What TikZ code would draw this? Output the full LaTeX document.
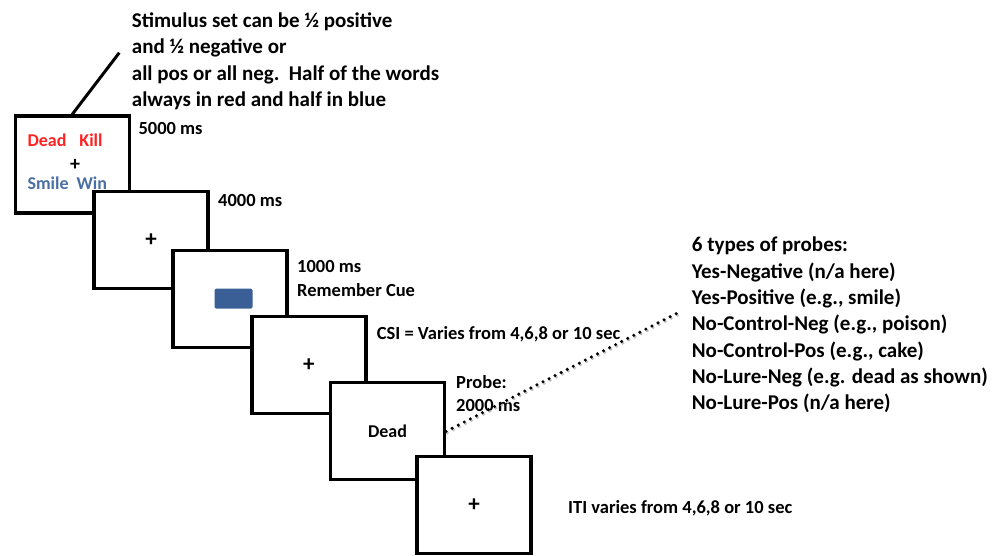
\documentclass[tikz,border=0pt]{standalone}
\usepackage{fontspec}
\setmainfont{Carlito}
\definecolor{wred}{HTML}{FF2222}
\definecolor{wblue}{HTML}{4A6FA5}
\definecolor{cueblue}{HTML}{3A5F96}
\begin{document}
\begin{tikzpicture}[x=1pt,y=-1pt,
  frame/.style={draw,line width=3.2pt,fill=white,minimum width=114pt,minimum height=97pt,inner sep=0pt,font=\fontsize{18}{20}\selectfont\bfseries},
  plus/.style={font=\fontsize{23}{24}\selectfont\bfseries},
  lbl/.style={anchor=base west,inner sep=0pt,font=\fontsize{18.5}{22}\selectfont\bfseries},
  big/.style={anchor=north west,inner sep=0pt,align=left,font=\fontsize{21}{26.4}\selectfont\bfseries},
  word/.style={anchor=base west,inner sep=0pt,font=\fontsize{18}{20}\selectfont\bfseries},
  lead/.style={line width=3pt},
  dotline/.style={line width=3.4pt,line cap=round,dash pattern=on 0pt off 6.8pt,black,
    preaction={draw=black!25,line width=3.4pt,line cap=round,dash pattern=on 0pt off 6.8pt,transform canvas={shift={(1.2,1.6)}}}},
]
\useasboundingbox (0,0) rectangle (1006,555);

% top note
\node[big] (note) at (131.7,12.6) {Stimulus set can be ½ positive\\and ½ negative or\\all pos or all neg.\ \ Half of the words\\always in red and half in blue};

% frame 1
\node[frame] (b1) at (72.2,164.5) {};
\node[word,text=wred] (w1) at (27.3,146.7) {Dead\hspace{13pt}Kill};
\node[inner sep=0pt,font=\fontsize{20}{21}\selectfont\bfseries] (p1) at (75,165) {+};
\node[word,text=wblue] (w2) at (27.3,189) {Smile\hspace{8pt}Win};
\coordinate (leadend) at (119.3,52.7);
\draw[lead] (b1.north) -- (leadend);
\node[lbl] (t1) at (138.3,134) {5000 ms};

% frame 2
\node[frame,plus] (b2) at (151,239.7) {+};
\node[lbl] (t2) at (218,206) {4000 ms};

% frame 3
\node[frame] (b3) at (230,298.8) {};
\node[fill=cueblue,rounded corners=1.5pt,minimum width=38pt,minimum height=20pt,inner sep=0pt] (cue) at (233.5,298.5) {};
\node[lbl] (t3a) at (297,272.7) {1000 ms};
\node[lbl] (t3b) at (297,296) {Remember Cue};

% frame 4
\node[frame,plus] (b4) at (308.9,365) {+};
\node[lbl] (t4) at (376.7,339.3) {CSI = Varies from 4,6,8 or 10 sec};

% frame 5
\node[frame] (b5) at (387.5,431.3) {Dead};
\node[lbl] (t5a) at (456,388.3) {Probe:};
\node[lbl] (t5b) at (456,411.7) {2000 ms};

% frame 6
\node[frame,plus] (b6) at (474,504.7) {+};
\node[lbl] (t6) at (568,513.3) {ITI varies from 4,6,8 or 10 sec};

% probe list
\node[big,font=\fontsize{21}{26.3}\selectfont\bfseries] (probes) at (691.7,237) {6 types of probes:\\Yes-Negative (n/a here)\\Yes-Positive (e.g., smile)\\No-Control-Neg (e.g., poison)\\No-Control-Pos (e.g., cake)\\No-Lure-Neg (e.g. dead as shown)\\No-Lure-Pos (n/a here)};
\coordinate (dotend) at (678,312.7);
\draw[dotline] (b5.east) -- (dotend);
\end{tikzpicture}
\end{document}
